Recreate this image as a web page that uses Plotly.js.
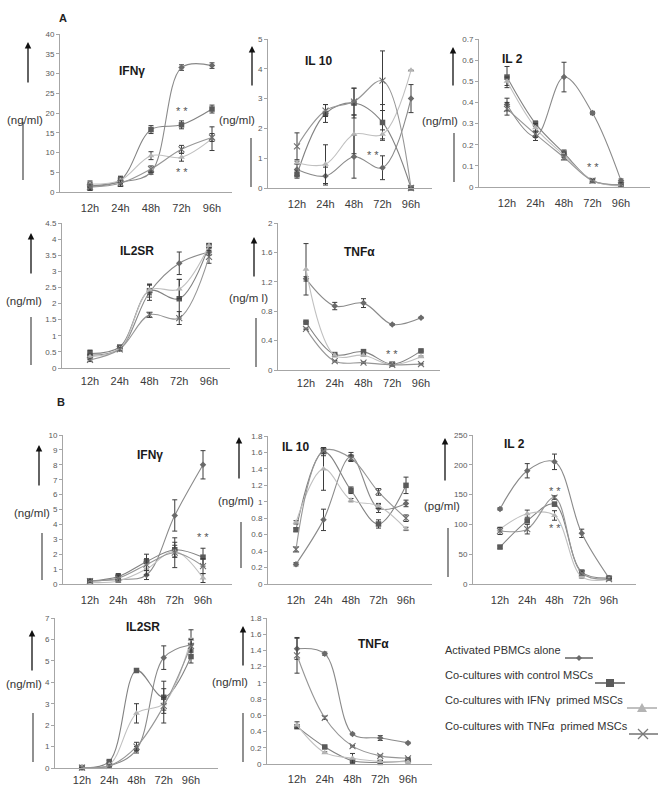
<!DOCTYPE html>
<html><head><meta charset="utf-8">
<script src="https://cdn.plot.ly/plotly-3.0.1.min.js"></script>
<style>body{margin:0;background:#fff}#chart{width:661px;height:789px}</style>
</head><body><div id="chart"></div>
<script>
// ---------- DATA ----------
const hours = ['12h','24h','48h','72h','96h'];
const seriesNames = ['Activated PBMCs alone','Co-cultures with control MSCs','Co-cultures with IFN\u03b3  primed MSCs','Co-cultures with TNF\u03b1  primed MSCs'];
const panelTitles = ['IFN\u03b3','IL 10','IL 2','IL2SR','TNF\u03b1','IFN\u03b3','IL 10','IL 2','IL2SR','TNF\u03b1'];
const unitLabels = ['(ng/ml)','(ng/ml)','(ng/ml)','(ng/ml)','(ng/m l)','(ng/ml)','(ng/ml)','(pg/ml)','(ng/ml)','(ng/ml)'];
const panelLetters = ['A','B'];

// each: [PBMCs alone, control MSCs, IFNγ primed MSCs, TNFα primed MSCs]
const A_IFNg     = [[1.5,2.5,5.0,31.5,32.0],[1.5,3.0,15.8,17.0,21.0],[2.0,3.0,9.2,8.8,13.5],[1.2,2.2,5.8,10.8,13.8]];
const A_IFNg_err = [[1,1,0.5,0.7,0.7],[0.8,1,1,1,1],[0.8,0.8,1,1,3],[0.8,0.8,0.8,1,1]];
const A_IL10     = [[0.62,0.4,1.05,0.68,3.0],[0.45,2.5,2.85,2.2,0.0],[0.85,0.8,1.8,1.8,3.95],[1.4,2.6,2.9,3.6,0.0]];
const A_IL10_err = [[0.2,0.3,0.72,0.4,0.47],[0.12,0.3,0.5,0.6,0],[0.05,0.65,0.65,0.15,0],[0.45,0.2,0.45,1.0,0]];
const A_IL2      = [[0.39,0.24,0.52,0.35,0.03],[0.52,0.30,0.16,0.03,0.01],[0.50,0.28,0.15,0.03,0.005],[0.37,0.25,0.14,0.03,0.01]];
const A_IL2_err  = [[0.03,0.02,0.07,0.008,0.008],[0.05,0.012,0.015,0.005,0.01],[0.02,0.02,0.01,0.005,0.005],[0.03,0.015,0.012,0.005,0.01]];
const A_IL2SR    = [[0.4,0.6,2.35,3.25,3.6],[0.45,0.65,2.4,2.15,3.8],[0.35,0.6,2.42,2.45,3.8],[0.25,0.58,1.65,1.55,3.45]];
const A_IL2SR_err= [[0.15,0.05,0.25,0.35,0.1],[0.1,0.05,0.2,0.6,0.05],[0.08,0.05,0.15,0.3,0.05],[0.05,0.05,0.08,0.2,0.2]];
const A_TNFa     = [[1.24,0.87,0.91,0.62,0.71],[0.65,0.21,0.25,0.08,0.26],[1.37,0.20,0.20,0.07,0.18],[0.56,0.12,0.10,0.07,0.08]];
const A_TNFa_err = [[0.03,0.05,0.06,0.01,0.01],[0.01,0.01,0.01,0.01,0.01],[0.35,0.01,0.01,0.01,0.01],[0.01,0.01,0.01,0.01,0.01]];
const B_IFNg     = [[0.2,0.3,0.6,4.6,8.0],[0.2,0.5,1.5,2.3,1.8],[0.1,0.2,1.0,2.2,0.4],[0.2,0.4,1.3,2.1,1.2]];
const B_IFNg_err = [[0.1,0.2,0.3,1.05,0.95],[0.1,0.2,0.5,0.5,0.6],[0.1,0.1,0.4,0.4,0.3],[0.1,0.2,0.4,1.0,0.5]];
const B_IL10     = [[0.24,0.78,1.55,0.92,0.98],[0.66,1.61,1.14,0.73,1.2],[0.75,1.4,1.02,0.95,0.67],[0.42,1.62,1.53,1.12,0.8]];
const B_IL10_err = [[0.02,0.13,0.05,0.05,0.04],[0.02,0.05,0.04,0.05,0.1],[0.02,0.26,0.02,0.03,0.02],[0.03,0.03,0.04,0.04,0.04]];
const B_IL2      = [[126,190,205,85,10],[62,106,134,20,10],[92,118,115,12,8],[89,92,145,18,8]];
const B_IL2_err  = [[2,12,13,7,1],[2,2,3,3,1],[3,6,8,2,1],[6,8,3,3,1]];
const B_IL2SR    = [[0.02,0.1,0.85,5.15,5.75],[0.02,0.3,4.55,3.3,5.2],[0.02,0.15,2.55,3.0,6.0],[0.02,0.1,1.0,2.9,5.7]];
const B_IL2SR_err= [[0.01,0.05,0.15,0.55,0.3],[0.01,0.05,0.05,0.75,0.3],[0.01,0.05,0.45,0.3,0.45],[0.01,0.05,0.2,0.8,0.3]];
const B_TNFa     = [[1.42,1.36,0.37,0.32,0.26],[0.46,0.21,0.04,0.02,0.04],[0.48,0.14,0.07,0.03,0.03],[1.34,0.57,0.22,0.10,0.07]];
const B_TNFa_err = [[0.13,0.02,0.01,0.03,0.01],[0.01,0.01,0.01,0.01,0.01],[0.04,0.01,0.06,0.01,0.01],[0.22,0.02,0.01,0.01,0.01]];

const yMax  = [40,5,0.7,4.5,2,10,1.8,250,7,1.8];
const yStep = [5,1,0.1,0.5,0.4,1,0.2,50,1,0.2];

// significance marks: [panel index, category position, value]
const sigPanel = [0,0,1,2,4,5,7,7];
const sigX     = [3,3,2.65,3,3,4,2,2];
const sigY     = [20.5,5,1.1,0.095,0.22,3.15,156,94];

// ---------- STYLE / LAYOUT ----------
const panels = [A_IFNg,A_IL10,A_IL2,A_IL2SR,A_TNFa,B_IFNg,B_IL10,B_IL2,B_IL2SR,B_TNFa];
const panelErr = [A_IFNg_err,A_IL10_err,A_IL2_err,A_IL2SR_err,A_TNFa_err,B_IFNg_err,B_IL10_err,B_IL2_err,B_IL2SR_err,B_TNFa_err];

const W = 661, H = 789;
const px = v => v / W, py = v => 1 - v / H;
// [axis start x, axis end x, first category x, last category x, y of zero, y of max]
const geo = [
  [60,232,90,212,192,34],
  [268,432,297,411,188,39],
  [479,650,507,621,187,39],
  [62,230,90,209,368,223],
  [278,440,306,421,370,223],
  [63,232,90,203,584,435],
  [268,432,296,406,584,436],
  [473,636,500,609,584,435],
  [55,218,82,191,768,618],
  [267,432,297,408,764,618]
];
const standoff = [6,6,6,3,3,6,6,6,2,5];
const titlePos = [[117,62],[318,52],[525,50],[118,242],[359,243],[135,455],[295,447],[527,444],[124,636],[373,653]];
// unit label: [right edge x, centre y]
const unitPos  = [[45,112],[257,112],[460,113],[44,301],[270,298],[52,513],[256,501],[462,506],[44,692],[250,690]];
const arrowPos = [[28,42,84],[252,46,87],[453,47,87],[31,233,275],[254,237,278],[39,445,487],[239,437,480],[445,438,482],[32,630,672],[243,626,667]];
const barPos   = [[23,122,180],[251,138,187],[454,133,182],[31,317,365],[256,318,367],[42,533,580],[241,522,568],[448,528,577],[33,713,762],[243,713,762]];

const markerColors = ['#6a6a6a','#5a5a5a','#b4b4b4','#7c7c7c'];
const lineColors   = ['#8a8a8a','#828282','#c0c0c0','#969696'];
const symbols      = ['diamond','square','triangle-up','x-thin'];
const msizes       = [5,5.5,6,6];

const traces = [];
const layout = {
  width: W, height: H, margin: {l:0,r:0,t:0,b:0},
  paper_bgcolor: '#fff', plot_bgcolor: 'rgba(0,0,0,0)',
  showlegend: false,
  font: {family: 'Liberation Sans, Arial, sans-serif', color: '#404040'},
  annotations: [], shapes: []
};

panels.forEach((vals, p) => {
  const [a0, a1, p12, p96, y0, yM] = geo[p];
  const s = (p96 - p12) / (hours.length - 1);
  const n = p + 1;
  const xk = 'xaxis' + (n === 1 ? '' : n), yk = 'yaxis' + (n === 1 ? '' : n);
  const xr = 'x' + (n === 1 ? '' : n), yr = 'y' + (n === 1 ? '' : n);
  layout[xk] = {
    domain: [px(a0), px(a1)], anchor: yr, type: 'category',
    range: [-(p12 - a0) / s, hours.length - 1 + (a1 - p96) / s],
    showline: true, linecolor: '#a6a6a6', linewidth: 1,
    showgrid: false, zeroline: false, ticks: '',
    tickfont: {size: 11, color: '#3a3a3a'}, ticklabelstandoff: standoff[p], fixedrange: true
  };
  layout[yk] = {
    domain: [py(y0), py(yM)], anchor: xr, range: [0, yMax[p]],
    dtick: yStep[p], tick0: 0,
    showline: true, linecolor: '#a6a6a6', linewidth: 1,
    showgrid: false, zeroline: false, ticks: 'outside', ticklen: 3, tickcolor: '#a6a6a6',
    tickfont: {size: 8, color: '#595959'}, fixedrange: true
  };
  vals.forEach((v, k) => {
    traces.push({
      type: 'scatter', mode: 'lines+markers', x: hours, y: v,
      xaxis: xr, yaxis: yr, name: seriesNames[k], cliponaxis: false,
      line: {shape: 'spline', smoothing: 1, color: lineColors[k], width: 1.1},
      marker: {symbol: symbols[k], size: msizes[k], color: markerColors[k],
               line: {color: k === 3 ? '#6e6e6e' : markerColors[k], width: k === 3 ? 1.1 : 0}},
      error_y: {type: 'data', array: panelErr[p][k], visible: true, color: '#3c3c3c', thickness: 1, width: 2.5}
    });
  });
  layout.annotations.push({xref:'paper', yref:'paper', x: px(titlePos[p][0]), y: py(titlePos[p][1]),
    text: '<b>' + panelTitles[p] + '</b>', showarrow: false, font: {size: 12, color: '#1a1a1a'}});
  layout.annotations.push({xref:'paper', yref:'paper', x: px(unitPos[p][0]), y: py(unitPos[p][1]), xanchor: 'right',
    text: unitLabels[p], showarrow: false, font: {size: 11.5, color: '#333'}});
  const ar = arrowPos[p];
  layout.annotations.push({xref:'paper', yref:'paper', x: px(ar[0]), y: py(ar[1]), ax: 0, ay: ar[2] - ar[1],
    text: '', showarrow: true, arrowhead: 2, arrowsize: 1, arrowwidth: 1.3, arrowcolor: '#111'});
  const b = barPos[p];
  layout.shapes.push({type:'line', xref:'paper', yref:'paper', x0: px(b[0]), x1: px(b[0]), y0: py(b[1]), y1: py(b[2]),
    line: {color: '#555', width: 1.3}});
});

// significance marks
sigPanel.forEach((p, i) => {
  const n = p + 1;
  layout.annotations.push({xref: 'x' + (n === 1 ? '' : n), yref: 'y' + (n === 1 ? '' : n),
    x: sigX[i], y: sigY[i], text: '* *', showarrow: false, font: {size: 11, color: '#555'}});
});

// panel letters
layout.annotations.push({xref:'paper', yref:'paper', x: px(57), y: py(10), text: '<b>' + panelLetters[0] + '</b>', showarrow: false, font: {size: 11, color: '#222'}});
layout.annotations.push({xref:'paper', yref:'paper', x: px(55), y: py(402), text: '<b>' + panelLetters[1] + '</b>', showarrow: false, font: {size: 11, color: '#222'}});

// legend (text left, key right as in the reference)
const legY = [658,683,708,734];
const legKey = [[565,593,579],[595,625,610],[627,657,642],[629,658,643]];
function pth(pts){ return 'M' + pts.map(q => px(q[0]) + ',' + py(q[1])).join(' L') + ' Z'; }
seriesNames.forEach((nm, k) => {
  layout.annotations.push({xref:'paper', yref:'paper', x: px(443), y: py(legY[k]), xanchor: 'left',
    text: nm, showarrow: false, font: {size: 11, color: '#333'}});
  const [l0, l1, c] = legKey[k], y = legY[k];
  layout.shapes.push({type:'line', xref:'paper', yref:'paper', x0: px(l0), x1: px(l1), y0: py(y), y1: py(y),
    line: {color: lineColors[k], width: 2}});
  if (k === 0) layout.shapes.push({type:'path', xref:'paper', yref:'paper', path: pth([[c,y-3],[c+3,y],[c,y+3],[c-3,y]]), fillcolor: markerColors[0], line:{width:0}});
  if (k === 1) layout.shapes.push({type:'path', xref:'paper', yref:'paper', path: pth([[c-4,y-4],[c+4,y-4],[c+4,y+4],[c-4,y+4]]), fillcolor: markerColors[1], line:{width:0}});
  if (k === 2) layout.shapes.push({type:'path', xref:'paper', yref:'paper', path: pth([[c,y-5],[c+5,y+4],[c-5,y+4]]), fillcolor: markerColors[2], line:{width:0}});
  if (k === 3) {
    layout.shapes.push({type:'line', xref:'paper', yref:'paper', x0: px(c-5), x1: px(c+5), y0: py(y-5), y1: py(y+5), line:{color:'#7a7a7a', width:1.2}});
    layout.shapes.push({type:'line', xref:'paper', yref:'paper', x0: px(c-5), x1: px(c+5), y0: py(y+5), y1: py(y-5), line:{color:'#7a7a7a', width:1.2}});
  }
});

Plotly.newPlot('chart', traces, layout, {displayModeBar: false, staticPlot: true});
</script>
</body></html>
